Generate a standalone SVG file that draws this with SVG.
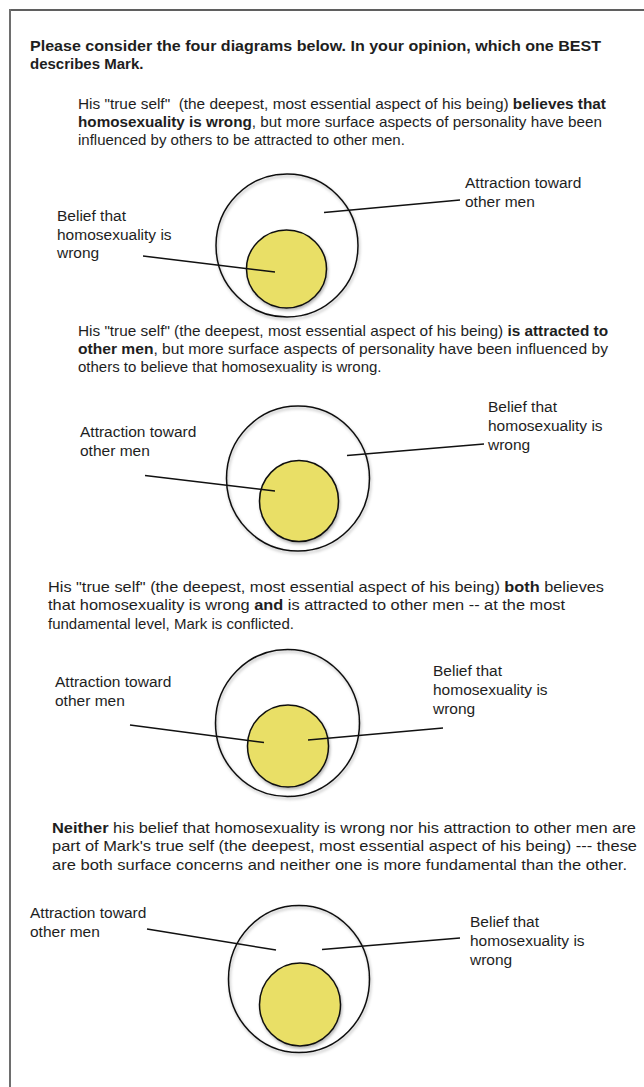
<svg xmlns="http://www.w3.org/2000/svg" width="644" height="1087" viewBox="0 0 644 1087">
<defs>
<filter id="sh" x="-20%" y="-20%" width="140%" height="140%">
<feDropShadow dx="1" dy="2" stdDeviation="1.5" flood-color="#000" flood-opacity="0.3"/>
</filter>
<style>
text{font-family:"Liberation Sans",Arial,Helvetica,sans-serif;font-size:15px;fill:#1e1e1e}
.h{font-weight:bold}
.b{font-weight:bold}
.lbl{font-size:15.5px}
.outer{fill:none;stroke:#111;stroke-width:1.5}
.inner{fill:#e9df66;stroke:#111;stroke-width:1.5}
.ln{stroke:#111;stroke-width:1.4;fill:none}
</style>
</defs>
<rect width="644" height="1087" fill="#fff"/>
<line x1="9" y1="10" x2="644" y2="10" stroke="#2a2a2a" stroke-width="1.6"/>
<line x1="10" y1="9" x2="10" y2="1087" stroke="#6e6e6e" stroke-width="2"/>

<g id="heading">
<text class="h" x="30" y="51" textLength="571" lengthAdjust="spacingAndGlyphs">Please consider the four diagrams below. In your opinion, which one BEST</text>
<text class="h" x="30" y="69">describes Mark.</text>
</g>

<g id="option1-text">
<text x="78" y="109" textLength="528" lengthAdjust="spacingAndGlyphs">His "true self"&#160; (the deepest, most essential aspect of his being) <tspan class="b">believes that</tspan></text>
<text x="78" y="127" textLength="524" lengthAdjust="spacingAndGlyphs"><tspan class="b">homosexuality is wrong</tspan>, but more surface aspects of personality have been</text>
<text x="78" y="145">influenced by others to be attracted to other men.</text>
</g>

<g id="option1-diagram">
<ellipse class="outer" cx="287" cy="245.5" rx="71" ry="71.5" filter="url(#sh)"/>
<ellipse class="inner" cx="286.5" cy="269" rx="40" ry="39" filter="url(#sh)"/>
<text class="lbl" x="465" y="188">Attraction toward</text>
<text class="lbl" x="465" y="207">other men</text>
<text class="lbl" x="57" y="221">Belief that</text>
<text class="lbl" x="57" y="240">homosexuality is</text>
<text class="lbl" x="57" y="258">wrong</text>
</g>

<g id="option2-text">
<text x="78" y="336" textLength="530" lengthAdjust="spacingAndGlyphs">His "true self" (the deepest, most essential aspect of his being) <tspan class="b">is attracted to</tspan></text>
<text x="78" y="354" textLength="530" lengthAdjust="spacingAndGlyphs"><tspan class="b">other men</tspan>, but more surface aspects of personality have been influenced by</text>
<text x="78" y="372">others to believe that homosexuality is wrong.</text>
</g>

<g id="option2-diagram">
<ellipse class="outer" cx="298" cy="478.5" rx="71.5" ry="72.5" filter="url(#sh)"/>
<ellipse class="inner" cx="299" cy="501" rx="39.5" ry="40.5" filter="url(#sh)"/>
<text class="lbl" x="80" y="437">Attraction toward</text>
<text class="lbl" x="80" y="456">other men</text>
<text class="lbl" x="488" y="412">Belief that</text>
<text class="lbl" x="488" y="431">homosexuality is</text>
<text class="lbl" x="488" y="450">wrong</text>
</g>

<g id="option3-text">
<text x="48" y="592" textLength="556" lengthAdjust="spacingAndGlyphs">His "true self" (the deepest, most essential aspect of his being) <tspan class="b">both</tspan> believes</text>
<text x="48" y="610" textLength="517" lengthAdjust="spacingAndGlyphs">that homosexuality is wrong <tspan class="b">and</tspan> is attracted to other men -- at the most</text>
<text x="48" y="629">fundamental level, Mark is conflicted.</text>
</g>

<g id="option3-diagram">
<ellipse class="outer" cx="287.5" cy="723" rx="72" ry="73.5" filter="url(#sh)"/>
<ellipse class="inner" cx="288" cy="746" rx="40.5" ry="41" filter="url(#sh)"/>
<text class="lbl" x="55" y="687">Attraction toward</text>
<text class="lbl" x="55" y="706">other men</text>
<text class="lbl" x="433" y="676">Belief that</text>
<text class="lbl" x="433" y="695">homosexuality is</text>
<text class="lbl" x="433" y="714">wrong</text>
</g>

<g id="option4-text">
<text x="52" y="833" textLength="584" lengthAdjust="spacingAndGlyphs"><tspan class="b">Neither</tspan> his belief that homosexuality is wrong nor his attraction to other men are</text>
<text x="52" y="851" textLength="585" lengthAdjust="spacingAndGlyphs">part of Mark's true self (the deepest, most essential aspect of his being) --- these</text>
<text x="52" y="870" textLength="575" lengthAdjust="spacingAndGlyphs">are both surface concerns and neither one is more fundamental than the other.</text>
</g>

<g id="option4-diagram">
<ellipse class="outer" cx="299" cy="979" rx="70.5" ry="73.5" filter="url(#sh)"/>
<ellipse class="inner" cx="300" cy="1004.5" rx="40.5" ry="41.5" filter="url(#sh)"/>
<text class="lbl" x="30" y="918">Attraction toward</text>
<text class="lbl" x="30" y="937">other men</text>
<text class="lbl" x="470" y="927">Belief that</text>
<text class="lbl" x="470" y="946">homosexuality is</text>
<text class="lbl" x="470" y="965">wrong</text>
</g>

<g id="connectors">
<line class="ln" x1="324" y1="212.5" x2="460" y2="200"/>
<line class="ln" x1="143" y1="256" x2="275" y2="272"/>
<line class="ln" x1="145" y1="475.5" x2="275" y2="491"/>
<line class="ln" x1="347" y1="455.5" x2="484" y2="444"/>
<line class="ln" x1="130" y1="725" x2="264" y2="742.5"/>
<line class="ln" x1="308" y1="740" x2="443" y2="728"/>
<line class="ln" x1="147" y1="929" x2="276" y2="950"/>
<line class="ln" x1="322" y1="949.5" x2="460" y2="938"/>
</g>
</svg>
